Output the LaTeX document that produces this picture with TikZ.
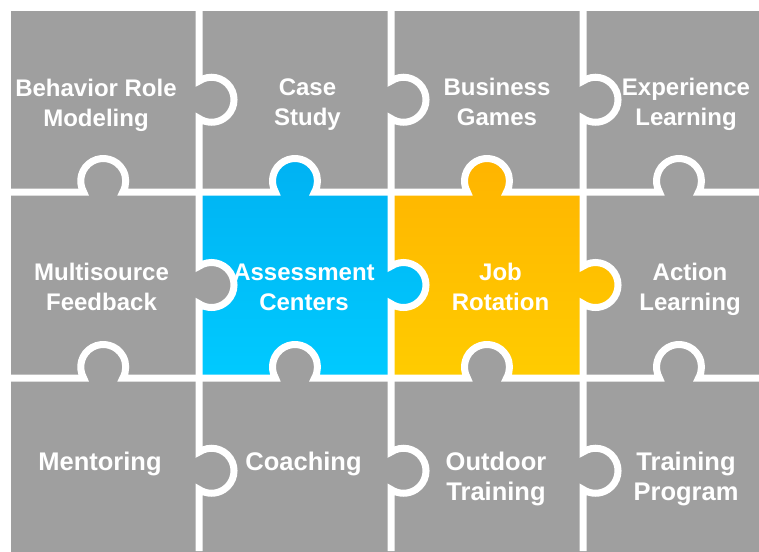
\documentclass[tikz,border=0pt]{standalone}
\usepackage{fontspec}
\setmainfont{Liberation Sans}
\usepackage{xcolor}
\definecolor{piecegray}{RGB}{159,159,159}
\definecolor{blueTop}{RGB}{0,178,242}
\definecolor{blueBot}{RGB}{0,202,255}
\definecolor{orangeTop}{RGB}{255,180,0}
\definecolor{orangeBot}{RGB}{255,204,0}
\usepackage{tikz}
\tikzset{
	piecetext/.style={text=white, font=\bfseries\fontsize{24}{30}\selectfont, align=center, inner sep=0pt, anchor=base},
	bigtext/.style={piecetext, font=\bfseries\fontsize{25.5}{30}\selectfont},
	cutline/.style={draw=white, line width=7pt},
	hknob/.style={start angle=150.7, end angle=389.3, radius=22.5},
	vknob/.style={start angle=-123.8, end angle=123.8, radius=22.5}
}

\begin{document}
\begin{tikzpicture}[x=1pt, y=-1pt]
		\useasboundingbox (0,0) rectangle (759,551);
		\clip (0,0) rectangle (759,551);

		\fill[piecegray]	(11,11) rectangle (780,570);

		\shade[top color=orangeTop, bottom color=orangeBot]	(583,192) rectangle (391,378)
						(487,181) circle (22.5)
						(595.5,285) circle (22.5);
		\shade[top color=blueTop, bottom color=blueBot]	(391,192) rectangle (199,378)
						(295,181) circle (22.5)
						(403.5,285) circle (22.5);
		\fill[piecegray]	(211.5,285) circle (22.5)
						(295,367) circle (22.5)
						(487,367) circle (22.5);

		\draw[cutline] (0,192) -- (83.62,192) arc[hknob] -- (275.37,192) arc[hknob] -- (467.37,192) arc[hknob] -- (659.37,192) arc[hknob] -- (759,192);
		\draw[cutline] (0,378) -- (83.62,378) arc[hknob] -- (275.37,378) arc[hknob] -- (467.37,378) arc[hknob] -- (659.37,378) arc[hknob] -- (759,378);
		\draw[cutline] (199,0) -- (199,81.05) arc[vknob] -- (199,266.3) arc[vknob] -- (199,452.05) arc[vknob] -- (199,551);
		\draw[cutline] (391,0) -- (391,81.05) arc[vknob] -- (391,266.3) arc[vknob] -- (391,452.05) arc[vknob] -- (391,551);
		\draw[cutline] (583,0) -- (583,81.05) arc[vknob] -- (583,266.3) arc[vknob] -- (583,452.05) arc[vknob] -- (583,551);

		\node[piecetext] (behavior) at (96,126) {Behavior Role\\Modeling};
		\node[piecetext] (casestudy) at (307.5,125) {Case\\Study};
		\node[piecetext] (business) at (497,125) {Business\\Games};
		\node[piecetext] (experience) at (686,125) {Experience\\Learning};

		\node[piecetext] (multisource) at (101.5,310) {Multisource\\Feedback};
		\node[piecetext] (assessment) at (304,310) {Assessment\\Centers};
		\node[piecetext] (jobrot) at (500.5,310) {Job\\Rotation};
		\node[piecetext] (action) at (690,310) {Action\\Learning};

		\node[bigtext] (mentoring) at (100,470) {Mentoring};
		\node[bigtext] (coaching) at (303.5,470) {Coaching};
		\node[bigtext] (outdoor) at (496,500) {Outdoor\\Training};
		\node[bigtext] (trainprog) at (686,500) {Training\\Program};
    \end{tikzpicture}
\end{document}
